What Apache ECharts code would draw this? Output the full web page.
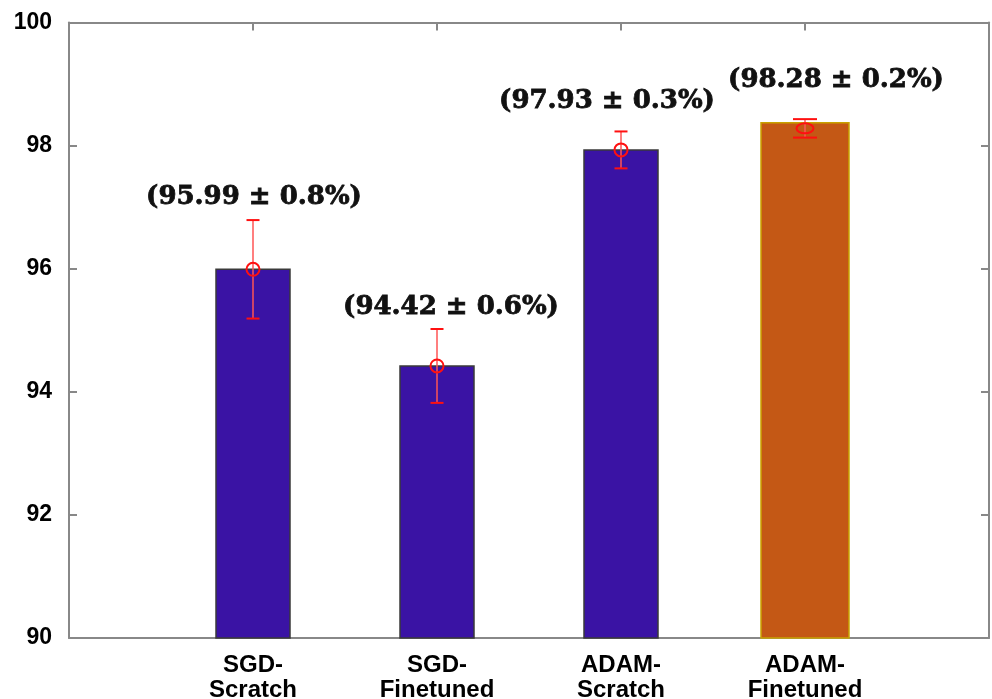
<!DOCTYPE html>
<html>
<head>
<meta charset="utf-8">
<script src="https://cdn.jsdelivr.net/npm/echarts@6/dist/echarts.min.js"></script>
<style>
html,body{margin:0;padding:0;background:#fff;}
#chart{width:992px;height:699px;}
</style>
</head>
<body>
<div id="chart"></div>
<script>
// ---- data ----
const categories = ['SGD-\nScratch', 'SGD-\nFinetuned', 'ADAM-\nScratch', 'ADAM-\nFinetuned'];
const categoryPositions = [1, 2, 3, 4];
const barValues = [95.99, 94.42, 97.93, 98.37];
const meanValues = [95.99, 94.42, 97.93, 98.28];
const errLow = [95.19, 93.82, 97.63, 98.13];
const errHigh = [96.79, 95.02, 98.23, 98.43];
const labelTexts = ['(95.99 \u00B1 0.8%)', '(94.42 \u00B1 0.6%)', '(97.93 \u00B1 0.3%)', '(98.28 \u00B1 0.2%)'];
const yTicks = [90, 92, 94, 96, 98, 100];

// ---- styling (not data) ----
const barWidths = [74, 74, 74, 88];
const barFill = ['#3A13A4', '#3A13A4', '#3A13A4', '#C45815'];
const barBorder = ['#3a3a3a', '#3a3a3a', '#3a3a3a', '#C9A200'];
const capWidths = [13, 13, 13, 24];
const markerRx = [6.5, 6.5, 6.5, 8.5];
const markerRy = [6.5, 6.5, 6.5, 5];
const labelOffsets = [[1, -23], [14, -22], [-14, -30], [31, -39]];

const chart = echarts.init(document.getElementById('chart'), null, {renderer: 'canvas'});

const barData = categoryPositions.map((x, i) => [x, barValues[i], i]);
const errData = categoryPositions.map((x, i) => [x, meanValues[i], errLow[i], errHigh[i], i]);

const axisLineStyle = {color: '#888', width: 2};
const tickStyle = {show: true, inside: true, length: 8, lineStyle: {color: '#888', width: 2}};

chart.setOption({
  animation: false,
  backgroundColor: '#fff',
  grid: {left: 69, right: 3, top: 22.5, bottom: 61, containLabel: false, outerBoundsMode: 'none'},
  xAxis: [{
    type: 'value', min: 0, max: 5, interval: 1,
    axisLine: {show: true, onZero: false, lineStyle: axisLineStyle},
    axisTick: tickStyle,
    splitLine: {show: false},
    axisLabel: {
      margin: 15,
      fontFamily: 'Liberation Sans, Arial',
      fontWeight: 'bold', fontSize: 24, color: '#000', lineHeight: 25,
      formatter: v => { const i = categoryPositions.indexOf(v); return i >= 0 ? categories[i] : ''; }
    }
  }, {
    type: 'value', min: 0, max: 5, interval: 1, position: 'top',
    axisLine: {show: true, onZero: false, lineStyle: axisLineStyle},
    axisTick: tickStyle,
    splitLine: {show: false}, axisLabel: {show: false}
  }],
  yAxis: [{
    type: 'value', min: yTicks[0], max: yTicks[yTicks.length - 1], interval: 2,
    axisLine: {show: true, onZero: false, lineStyle: axisLineStyle},
    axisTick: tickStyle,
    splitLine: {show: false},
    axisLabel: {margin: 17, fontFamily: 'Liberation Sans, Arial', fontWeight: 'bold', fontSize: 23, color: '#000'}
  }, {
    type: 'value', min: yTicks[0], max: yTicks[yTicks.length - 1], interval: 2, position: 'right',
    axisLine: {show: true, onZero: false, lineStyle: axisLineStyle},
    axisTick: tickStyle,
    splitLine: {show: false}, axisLabel: {show: false}
  }],
  series: [{
    type: 'custom',
    xAxisIndex: 0, yAxisIndex: 0,
    data: barData,
    renderItem: (params, api) => {
      const i = api.value(2);
      const top = api.coord([api.value(0), api.value(1)]);
      const base = api.coord([api.value(0), yTicks[0]]);
      const w = barWidths[i];
      return {
        type: 'rect',
        shape: {x: top[0] - w / 2, y: top[1], width: w, height: base[1] - top[1]},
        style: {fill: barFill[i], stroke: barBorder[i], lineWidth: 1.5}
      };
    }
  }, {
    type: 'custom',
    xAxisIndex: 0, yAxisIndex: 0,
    data: errData,
    z: 5,
    renderItem: (params, api) => {
      const i = api.value(4);
      const x = api.value(0);
      const m = api.coord([x, api.value(1)]);
      const lo = api.coord([x, api.value(2)]);
      const hi = api.coord([x, api.value(3)]);
      const cw = capWidths[i] / 2;
      const red = '#FF1010';
      const off = labelOffsets[i];
      return {
        type: 'group',
        children: [
          {type: 'line', shape: {x1: m[0], y1: lo[1], x2: m[0], y2: hi[1]}, style: {stroke: '#FF5555', lineWidth: 1.5}},
          {type: 'line', shape: {x1: m[0] - cw, y1: lo[1], x2: m[0] + cw, y2: lo[1]}, style: {stroke: red, lineWidth: 2}},
          {type: 'line', shape: {x1: m[0] - cw, y1: hi[1], x2: m[0] + cw, y2: hi[1]}, style: {stroke: red, lineWidth: 2}},
          {type: 'ellipse', shape: {cx: m[0], cy: m[1], rx: markerRx[i], ry: markerRy[i]}, style: {fill: 'none', stroke: red, lineWidth: 2}},
          {type: 'text', x: m[0] + off[0], y: hi[1] + off[1],
            style: {text: labelTexts[i], fontFamily: 'DejaVu Serif', fontWeight: 'bold', fontSize: 26,
              fill: '#111', stroke: '#111', lineWidth: 0.8, align: 'center', verticalAlign: 'middle'}}
        ]
      };
    }
  }]
});
</script>
</body>
</html>
